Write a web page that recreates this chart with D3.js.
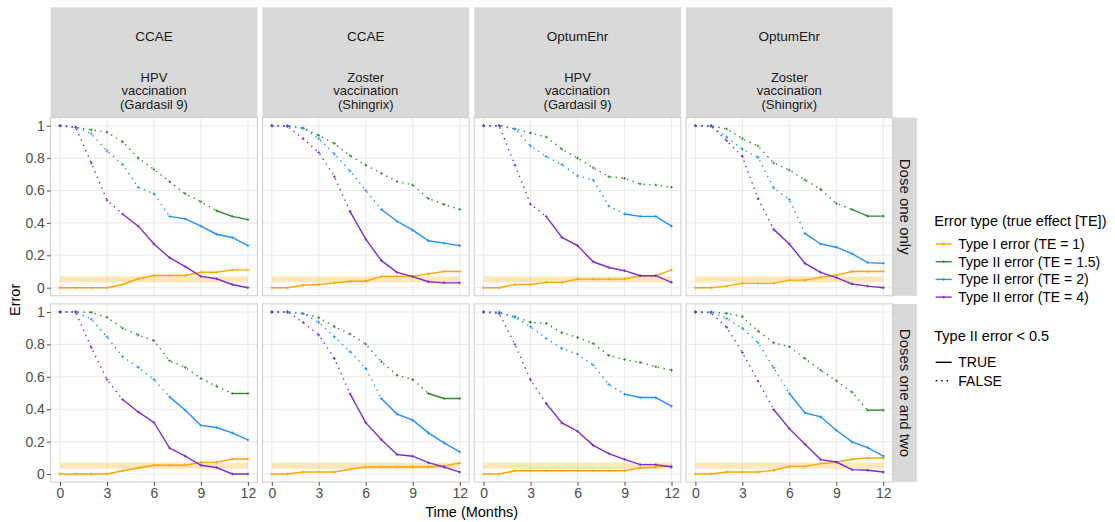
<!DOCTYPE html>
<html>
<head>
<meta charset="utf-8">
<script src="https://cdn.jsdelivr.net/npm/d3@7"></script>
<style>
  body { margin: 0; background: #fff; }
  svg text { font-family: "Liberation Sans", Arial, sans-serif; }
</style>
</head>
<body>
<svg id="chart" width="1115" height="522"></svg>
<script>
// months on the x axis
var months = [0, 1, 2, 3, 4, 5, 6, 7, 8, 9, 10, 11, 12];

// facet labels
var databases = ["CCAE", "CCAE", "OptumEhr", "OptumEhr"];
var vaccines = [
  ["HPV", "vaccination", "(Gardasil 9)"],
  ["Zoster", "vaccination", "(Shingrix)"],
  ["HPV", "vaccination", "(Gardasil 9)"],
  ["Zoster", "vaccination", "(Shingrix)"]
];
var doseRows = ["Dose one only", "Doses one and two"];

var seriesNames = ["Type I error (TE = 1)", "Type II error (TE = 1.5)",
                   "Type II error (TE = 2)", "Type II error (TE = 4)"];
var seriesColors = ["#FFA500", "#2E8B2E", "#1E90FF", "#7D2BD0"];

var yTicks = [0, 0.2, 0.4, 0.6, 0.8, 1];
var yTickLabels = ["0", "0.2", "0.4", "0.6", "0.8", "1"];
var xTicks = [0, 3, 6, 9, 12];

// shaded band around the nominal type I error
var bandLow = 0.033, bandHigh = 0.07;

// each panel: [TE = 1, TE = 1.5, TE = 2, TE = 4]
var ccaeHpvOne = [
  [0, 0, 0, 0, 0.02, 0.055, 0.075, 0.075, 0.075, 0.095, 0.095, 0.11, 0.11],
  [1, 0.99, 0.975, 0.96, 0.9, 0.8, 0.73, 0.655, 0.58, 0.53, 0.475, 0.44, 0.42],
  [1, 0.99, 0.95, 0.845, 0.76, 0.62, 0.58, 0.44, 0.425, 0.38, 0.33, 0.31, 0.26],
  [1, 0.99, 0.77, 0.54, 0.455, 0.38, 0.27, 0.185, 0.13, 0.07, 0.055, 0.02, 0]
];
var ccaeZosterOne = [
  [0, 0, 0.015, 0.02, 0.03, 0.04, 0.04, 0.07, 0.07, 0.07, 0.085, 0.1, 0.1],
  [1, 1, 0.985, 0.94, 0.89, 0.815, 0.757, 0.705, 0.656, 0.634, 0.55, 0.514, 0.483],
  [1, 1, 0.985, 0.92, 0.825, 0.72, 0.6, 0.483, 0.41, 0.355, 0.29, 0.275, 0.26],
  [1, 0.995, 0.92, 0.835, 0.685, 0.47, 0.3, 0.167, 0.095, 0.068, 0.037, 0.03, 0.03]
];
var optumHpvOne = [
  [0, 0, 0.02, 0.02, 0.033, 0.033, 0.053, 0.053, 0.053, 0.053, 0.074, 0.074, 0.11],
  [1, 1, 0.98, 0.955, 0.93, 0.855, 0.8, 0.74, 0.685, 0.675, 0.64, 0.634, 0.62],
  [1, 1, 0.98, 0.875, 0.81, 0.76, 0.69, 0.665, 0.504, 0.455, 0.44, 0.44, 0.38],
  [1, 1, 0.757, 0.515, 0.44, 0.31, 0.26, 0.16, 0.125, 0.105, 0.074, 0.074, 0.033]
];
var optumZosterOne = [
  [0, 0, 0.01, 0.027, 0.027, 0.027, 0.047, 0.047, 0.064, 0.078, 0.1, 0.1, 0.1],
  [1, 1, 0.98, 0.92, 0.875, 0.77, 0.726, 0.665, 0.607, 0.52, 0.483, 0.442, 0.442],
  [1, 0.995, 0.93, 0.855, 0.805, 0.615, 0.545, 0.335, 0.27, 0.25, 0.21, 0.155, 0.15],
  [1, 1, 0.907, 0.81, 0.55, 0.36, 0.27, 0.15, 0.095, 0.062, 0.023, 0.01, 0]
];
var ccaeHpvTwo = [
  [0, 0, 0, 0, 0.02, 0.037, 0.054, 0.054, 0.054, 0.072, 0.072, 0.093, 0.093],
  [1, 1, 0.998, 0.967, 0.9, 0.858, 0.823, 0.7, 0.658, 0.59, 0.542, 0.497, 0.497],
  [1, 1, 0.955, 0.847, 0.724, 0.658, 0.583, 0.476, 0.394, 0.3, 0.287, 0.254, 0.21],
  [1, 1, 0.78, 0.583, 0.46, 0.383, 0.318, 0.16, 0.11, 0.054, 0.04, 0, 0]
];
var ccaeZosterTwo = [
  [0, 0, 0.012, 0.012, 0.012, 0.029, 0.043, 0.043, 0.043, 0.043, 0.043, 0.05, 0.068],
  [1, 1, 0.99, 0.965, 0.909, 0.864, 0.802, 0.693, 0.61, 0.583, 0.497, 0.466, 0.466],
  [1, 1, 0.99, 0.936, 0.847, 0.755, 0.652, 0.466, 0.37, 0.332, 0.254, 0.192, 0.136],
  [1, 1, 0.936, 0.858, 0.713, 0.495, 0.317, 0.212, 0.12, 0.11, 0.07, 0.043, 0.012]
];
var optumHpvTwo = [
  [0, 0, 0.02, 0.02, 0.02, 0.02, 0.02, 0.02, 0.02, 0.02, 0.037, 0.043, 0.05],
  [1, 0.995, 0.971, 0.936, 0.93, 0.872, 0.843, 0.806, 0.732, 0.707, 0.689, 0.662, 0.641],
  [1, 1, 0.967, 0.909, 0.837, 0.775, 0.74, 0.672, 0.553, 0.493, 0.472, 0.472, 0.419],
  [1, 0.99, 0.8, 0.58, 0.435, 0.315, 0.264, 0.177, 0.126, 0.09, 0.058, 0.058, 0.043]
];
var optumZosterTwo = [
  [0, 0, 0.012, 0.012, 0.012, 0.023, 0.047, 0.047, 0.064, 0.074, 0.091, 0.099, 0.099],
  [1, 1, 0.992, 0.971, 0.882, 0.81, 0.786, 0.713, 0.641, 0.575, 0.505, 0.394, 0.394],
  [1, 1, 0.96, 0.9, 0.81, 0.656, 0.497, 0.377, 0.353, 0.27, 0.198, 0.163, 0.111],
  [1, 0.995, 0.905, 0.75, 0.573, 0.398, 0.28, 0.184, 0.089, 0.074, 0.027, 0.023, 0.012]
];

var panels = [
  [ccaeHpvOne, ccaeZosterOne, optumHpvOne, optumZosterOne],
  [ccaeHpvTwo, ccaeZosterTwo, optumHpvTwo, optumZosterTwo]
];

// layout
var panelLeft = 50.6, panelPitch = 211.8, panelW = 206.7;
var panelTop = 117.6, rowPitch = 186.3, panelH = 178.2;
var stripTop = 7.3, stripRightW = 24.3;

var svg = d3.select("#chart");

var x = d3.scaleLinear().domain([-0.6, 12.6]).range([0, panelW]);
var y = d3.scaleLinear().domain([-0.05, 1.05]).range([panelH, 0]);

var line = d3.line()
  .x(function (d) { return x(d.m); })
  .y(function (d) { return y(d.v); });

// split a series into runs; a segment is dotted when its start point has error >= 0.5
function runs(vals) {
  var out = [];
  var cur = null;
  for (var i = 0; i < vals.length - 1; i++) {
    var dotted = vals[i] >= 0.5;
    if (!cur || cur.dotted !== dotted) {
      cur = { dotted: dotted, pts: [{ m: months[i], v: vals[i] }] };
      out.push(cur);
    }
    cur.pts.push({ m: months[i + 1], v: vals[i + 1] });
  }
  return out;
}

function plus(g, cx, cy, color) {
  g.append("path")
    .attr("d", "M" + (cx - 1.4) + "," + cy + "h2.8M" + cx + "," + (cy - 1.4) + "v2.8")
    .attr("stroke", color)
    .attr("stroke-width", 0.9);
}

// top strips
databases.forEach(function (db, c) {
  var sx = panelLeft + c * panelPitch;
  var s = svg.append("g").attr("transform", "translate(" + sx + "," + stripTop + ")");
  s.append("rect").attr("width", panelW).attr("height", panelTop - stripTop).attr("fill", "#D9D9D9");
  s.append("text").attr("x", panelW / 2).attr("y", 36.7 - stripTop).attr("dy", "0.35em")
    .attr("text-anchor", "middle").attr("font-size", 13.5).attr("fill", "#1A1A1A").text(db);
  vaccines[c].forEach(function (t, k) {
    s.append("text").attr("x", panelW / 2).attr("y", 77.3 - stripTop + k * 13.35).attr("dy", "0.35em")
      .attr("text-anchor", "middle").attr("font-size", 13).attr("fill", "#1A1A1A").text(t);
  });
});

// right strips
doseRows.forEach(function (lab, r) {
  var sy = panelTop + r * rowPitch;
  var sx = panelLeft + 3 * panelPitch + panelW;
  var s = svg.append("g").attr("transform", "translate(" + sx + "," + sy + ")");
  s.append("rect").attr("width", stripRightW).attr("height", panelH).attr("fill", "#D9D9D9");
  s.append("text").attr("transform", "translate(" + (stripRightW / 2) + "," + (panelH / 2) + ") rotate(90)")
    .attr("dy", "0.35em").attr("text-anchor", "middle").attr("font-size", 15).attr("fill", "#1A1A1A").text(lab);
});

// panels
panels.forEach(function (row, r) {
  row.forEach(function (data, c) {
    var g = svg.append("g")
      .attr("transform", "translate(" + (panelLeft + c * panelPitch) + "," + (panelTop + r * rowPitch) + ")");

    g.append("rect").attr("width", panelW).attr("height", panelH).attr("fill", "#fff");

    g.selectAll(".hg").data(yTicks).enter().append("line")
      .attr("x1", 0).attr("x2", panelW)
      .attr("y1", function (d) { return y(d); }).attr("y2", function (d) { return y(d); })
      .attr("stroke", "#EBEBEB").attr("stroke-width", 1.1);
    g.selectAll(".vg").data(xTicks).enter().append("line")
      .attr("y1", 0).attr("y2", panelH)
      .attr("x1", function (d) { return x(d); }).attr("x2", function (d) { return x(d); })
      .attr("stroke", "#EBEBEB").attr("stroke-width", 1.1);

    g.append("rect")
      .attr("x", x(0)).attr("width", x(12) - x(0))
      .attr("y", y(bandHigh)).attr("height", y(bandLow) - y(bandHigh))
      .attr("fill", "#FFA500").attr("fill-opacity", 0.27);

    data.forEach(function (vals, s) {
      var col = seriesColors[s];
      runs(vals).forEach(function (run) {
        g.append("path")
          .attr("d", line(run.pts))
          .attr("fill", "none")
          .attr("stroke", col)
          .attr("stroke-width", 1.4)
          .attr("stroke-dasharray", run.dotted ? "1.4 4.4" : null);
      });
      vals.forEach(function (v, i) {
        plus(g, x(months[i]), y(v), col);
      });
    });

    g.append("rect").attr("width", panelW).attr("height", panelH)
      .attr("fill", "none").attr("stroke", "#CCCCCC").attr("stroke-width", 1);

    // y axis on first column
    if (c === 0) {
      var ya = d3.axisLeft(y).tickValues(yTicks).tickSize(3.7).tickPadding(2)
        .tickFormat(function (d, i) { return yTickLabels[i]; });
      var ay = g.append("g").call(ya);
      ay.select(".domain").remove();
      ay.selectAll("line").attr("stroke", "#4D4D4D");
      ay.selectAll("text").attr("font-size", 14).attr("fill", "#4D4D4D")
        .attr("font-family", "Liberation Sans, Arial, sans-serif");
    }
    // x axis on bottom row
    if (r === panels.length - 1) {
      var xa = d3.axisBottom(x).tickValues(xTicks).tickSize(3.7).tickPadding(2);
      var ax = g.append("g").attr("transform", "translate(0," + panelH + ")").call(xa);
      ax.select(".domain").remove();
      ax.selectAll("line").attr("stroke", "#4D4D4D");
      ax.selectAll("text").attr("font-size", 14).attr("fill", "#4D4D4D")
        .attr("font-family", "Liberation Sans, Arial, sans-serif");
    }
  });
});

// axis titles
var plotMidX = panelLeft + (3 * panelPitch + panelW) / 2;
svg.append("text").attr("x", plotMidX).attr("y", 511.7).attr("dy", "0.35em")
  .attr("text-anchor", "middle").attr("font-size", 14.5).attr("fill", "#000").text("Time (Months)");
svg.append("text").attr("transform", "translate(15," + (panelTop + (rowPitch + panelH) / 2) + ") rotate(-90)")
  .attr("dy", "0.35em").attr("text-anchor", "middle").attr("font-size", 14.5).attr("fill", "#000").text("Error");

// legend
var lg = svg.append("g");
lg.append("text").attr("x", 934.3).attr("y", 220.7).attr("dy", "0.35em")
  .attr("font-size", 14.5).attr("fill", "#000").text("Error type (true effect [TE])");
seriesNames.forEach(function (name, i) {
  var ly = 244 + i * 17.7;
  lg.append("line").attr("x1", 935.7).attr("x2", 951.7).attr("y1", ly).attr("y2", ly)
    .attr("stroke", seriesColors[i]).attr("stroke-width", 1.4);
  plus(lg, 943.7, ly, seriesColors[i]);
  lg.append("text").attr("x", 958.3).attr("y", ly).attr("dy", "0.35em")
    .attr("font-size", 14).attr("fill", "#000").text(name);
});
lg.append("text").attr("x", 934.3).attr("y", 335.7).attr("dy", "0.35em")
  .attr("font-size", 14.5).attr("fill", "#000").text("Type II error < 0.5");
["TRUE", "FALSE"].forEach(function (lab, i) {
  var ly = 362.3 + i * 18.4;
  lg.append("line").attr("x1", 935.7).attr("x2", 951.7).attr("y1", ly).attr("y2", ly)
    .attr("stroke", "#000").attr("stroke-width", 1.4)
    .attr("stroke-dasharray", i === 1 ? "1.5 4" : null);
  lg.append("text").attr("x", 958.3).attr("y", ly).attr("dy", "0.35em")
    .attr("font-size", 14).attr("fill", "#000").text(lab);
});
</script>
</body>
</html>
